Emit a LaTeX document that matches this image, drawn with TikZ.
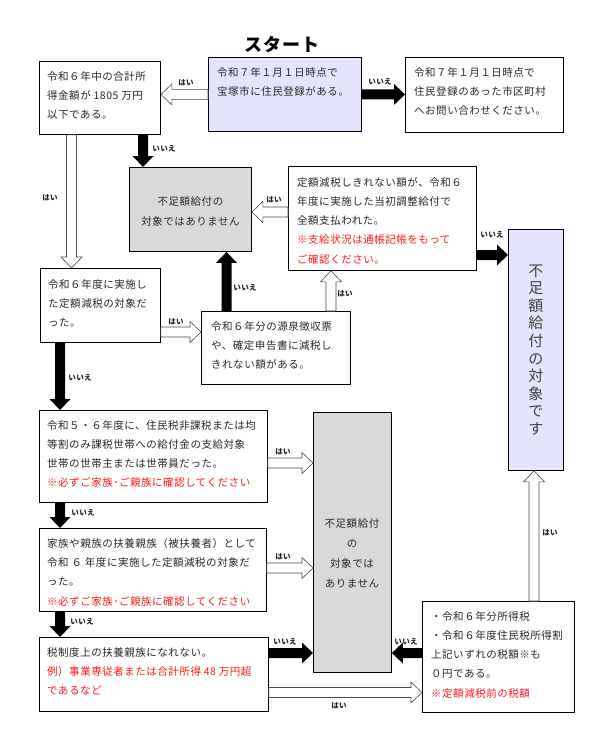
\documentclass[tikz,border=0pt]{standalone}
\usepackage{fontspec}
\setmainfont{Noto Sans CJK JP}[LetterSpace=5]
\usetikzlibrary{calc}
\definecolor{lav}{RGB}{228,228,252}
\definecolor{gry}{RGB}{217,217,217}
\definecolor{txtc}{RGB}{40,40,40}
\definecolor{redc}{RGB}{255,25,25}
\newcommand\fatarrow[3]{%
  \path[#1] let \p1=(#2), \p2=(#3), \n1={veclen(\x2-\x1,\y2-\y1)},
    \n2={(\x2-\x1)/\n1}, \n3={(\y2-\y1)/\n1} in
    ({\x1-(\n3)*5pt},{\y1+(\n2)*5pt})
    -- ({\x2-(\n2)*11pt-(\n3)*5pt},{\y2-(\n3)*11pt+(\n2)*5pt})
    -- ({\x2-(\n2)*11pt-(\n3)*10.5pt},{\y2-(\n3)*11pt+(\n2)*10.5pt})
    -- (\x2,\y2)
    -- ({\x2-(\n2)*11pt+(\n3)*10.5pt},{\y2-(\n3)*11pt-(\n2)*10.5pt})
    -- ({\x2-(\n2)*11pt+(\n3)*5pt},{\y2-(\n3)*11pt-(\n2)*5pt})
    -- ({\x1+(\n3)*5pt},{\y1-(\n2)*5pt}) -- cycle;}
\newcommand\flowbox[6]{\node[box,#2,minimum width={(#5)-(#3)},minimum height={(#6)-(#4)}] (#1) at (#3,#4) {};}
\tikzset{
  box/.style={draw=black, line width=0.9pt, fill=white, inner sep=0pt, anchor=north west},
  txt/.style={anchor=north west, inner sep=0pt, align=left, text=txtc, font=\fontsize{10.5pt}{19.3pt}\selectfont},
  ctxt/.style={inner sep=0pt, align=center, text=txtc, font=\fontsize{10.5pt}{19.3pt}\selectfont},
  lab/.style={inner sep=0pt, font=\fontsize{7.5pt}{8pt}\selectfont\bfseries, text=black!85},
  blk/.style={fill=black},
  hol/.style={fill=white, draw=black!70, line width=0.6pt},
}
\newcommand\rd[1]{\textcolor{redc}{#1}}
\begin{document}
\begin{tikzpicture}[x=1pt,y=-1pt]
\fill[white] (0,0) rectangle (604,749);
\useasboundingbox (0,0) rectangle (604,749);

\node[font=\fontsize{18pt}{18pt}\selectfont\bfseries] (title) at (282,45) {スタート};

\flowbox{S}{fill=lav}{208}{57}{361}{131}
\flowbox{B}{}{39}{61}{160}{134}
\flowbox{R}{}{405}{57}{563}{132}
\flowbox{G1}{fill=gry}{129}{167}{251}{251}
\flowbox{T}{}{288}{166}{476}{270}
\flowbox{P}{fill=lav}{508}{229}{563}{470}
\flowbox{C}{}{40}{268}{160}{342}
\flowbox{D}{}{201}{311}{350}{384}
\flowbox{E}{}{39}{410}{267}{502}
\flowbox{F}{}{39}{528}{266}{611}
\flowbox{G2}{fill=gry}{313}{412}{391}{672}
\flowbox{G}{}{39}{637}{268}{711}
\flowbox{H}{}{422}{601}{574}{712}

\node[txt] (St) at ($(S.north west)+(9,10)$) {令和７年１月１日時点で\\宝塚市に住民登録がある。};
\node[txt] (Bt) at ($(B.north west)+(8,10)$) {令和６年中の合計所\\得金額が 1805 万円\\以下である。};
\node[txt] (Rt) at ($(R.north west)+(9,10)$) {令和７年１月１日時点で\\住民登録のあった市区町村\\へお問い合わせください。};
\node[ctxt] (G1t) at ($(G1.center)+(0,2)$) {不足額給付の\\対象ではありません};
\node[txt] (Tt) at ($(T.north west)+(9,11)$) {定額減税しきれない額が、令和６\\年度に実施した当初調整給付で\\全額支払われた。\\\rd{※支給状況は通帳記帳をもって}\\\rd{ご確認ください。}};
\node[inner sep=0pt, align=center, text=black!75, font=\fontsize{15pt}{17.6pt}\selectfont] (Pt) at (P.center) {不\\足\\額\\給\\付\\の\\対\\象\\で\\す};
\node[txt] (Ct) at ($(C.north west)+(8,11)$) {令和６年度に実施し\\た定額減税の対象だ\\った。};
\node[txt] (Dt) at ($(D.north west)+(10,10)$) {令和６年分の源泉徴収票\\や、確定申告書に減税し\\きれない額がある。};
\node[txt] (Et) at ($(E.north west)+(8,10)$) {令和５・６年度に、住民税非課税または均\\等割のみ課税世帯への給付金の支給対象\\世帯の世帯主または世帯員だった。\\\rd{※必ずご家族･ご親族に確認してください}};
\node[txt] (Ft) at ($(F.north west)+(8,10)$) {家族や親族の扶養親族（被扶養者）として\\令和 ６ 年度に実施した定額減税の対象だ\\った。\\\rd{※必ずご家族･ご親族に確認してください}};
\node[txt] (Gt) at ($(G.north west)+(8,10)$) {税制度上の扶養親族になれない。\\\rd{例）事業専従者または合計所得 48 万円超}\\\rd{であるなど}};
\node[txt] (Ht) at ($(H.north west)+(9,10)$) {・令和６年分所得税\\・令和６年度住民税所得割\\上記いずれの税額※も\\０円である。\\\rd{※定額減税前の税額}};
\node[ctxt, font=\fontsize{10.5pt}{20pt}\selectfont] (G2t) at (352,553) {不足額給付\\の\\対象では\\ありません};

% connector start points
\coordinate (a1) at (S.west);
\coordinate (a2) at (S.east);
\coordinate (a3) at ($(B.south west)+(32.5,0)$);
\coordinate (a4) at ($(B.south west)+(104,0)$);
\coordinate (a5) at ($(T.north west)+(0,46)$);
\coordinate (a6) at ($(T.north east)+(0,89)$);
\coordinate (a7) at ($(C.north east)+(0,64)$);
\coordinate (a8) at ($(D.north west)+(25.5,0)$);
\coordinate (a9) at ($(D.north west)+(130,0)$);
\coordinate (a10) at ($(C.south west)+(20,0)$);
\coordinate (a11) at ($(E.north east)+(0,53)$);
\coordinate (a12) at ($(E.south west)+(21,0)$);
\coordinate (a13) at ($(F.north east)+(0,40)$);
\coordinate (a14) at ($(F.south west)+(21,0)$);
\coordinate (a15) at ($(G.north east)+(0,16)$);
\coordinate (a16) at ($(H.north west)+(0,52)$);
\coordinate (a17) at ($(G.north east)+(0,55.5)$);
\coordinate (a18) at ($(H.north west)+(112,0)$);

\fatarrow{hol}{a1}{a1 -| B.east}
\fatarrow{blk}{a2}{a2 -| R.west}
\fatarrow{hol}{a3}{a3 |- C.north}
\fatarrow{blk}{a4}{a4 |- G1.north}
\fatarrow{hol}{a5}{a5 -| G1.east}
\fatarrow{blk}{a6}{a6 -| P.west}
\fatarrow{hol}{a7}{a7 -| D.west}
\fatarrow{blk}{a8}{a8 |- G1.south}
\fatarrow{hol}{a9}{a9 |- T.south}
\fatarrow{blk}{a10}{a10 |- E.north}
\fatarrow{hol}{a11}{a11 -| G2.west}
\fatarrow{blk}{a12}{a12 |- F.north}
\fatarrow{hol}{a13}{a13 -| G2.west}
\fatarrow{blk}{a14}{a14 |- G.north}
\fatarrow{blk}{a15}{a15 -| G2.west}
\fatarrow{blk}{a16}{a16 -| G2.east}
\fatarrow{hol}{a17}{a17 -| H.west}
\fatarrow{hol}{a18}{a18 |- P.south}

% labels
\node[lab] (l1) at (186,83) {はい};
\node[lab] (l2) at (380,82) {いいえ};
\node[lab] (l3) at (50,198) {はい};
\node[lab] (l4) at (164,149) {いいえ};
\node[lab] (l5) at (274,200) {はい};
\node[lab] (l6) at (492,235) {いいえ};
\node[lab] (l7) at (176,322) {はい};
\node[lab] (l8) at (245,288) {いいえ};
\node[lab] (l9) at (345,294) {はい};
\node[lab] (l10) at (80,378) {いいえ};
\node[lab] (l11) at (283,452) {はい};
\node[lab] (l12) at (83,513) {いいえ};
\node[lab] (l13) at (283,557) {はい};
\node[lab] (l14) at (82,622) {いいえ};
\node[lab] (l15) at (285,642) {いいえ};
\node[lab] (l16) at (406,642) {いいえ};
\node[lab] (l17) at (339,706) {はい};
\node[lab] (l18) at (550,533) {はい};
\end{tikzpicture}
\end{document}
